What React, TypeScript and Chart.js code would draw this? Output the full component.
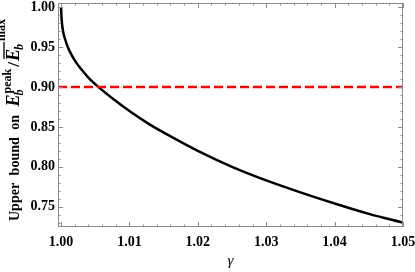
import React, { useEffect, useRef } from "react";
import { Chart, registerables } from "chart.js";

Chart.register(...registerables);

// ---- data ----
const gammaValues = [
  1.0, 1.0001, 1.0003, 1.0006, 1.001, 1.0015, 1.0022, 1.003, 1.004, 1.0055,
  1.0075, 1.01, 1.013, 1.0165, 1.02, 1.025, 1.03, 1.035, 1.04, 1.045, 1.05,
];
const boundValues = [
  1.0, 0.984, 0.97, 0.96, 0.95, 0.941, 0.931, 0.922, 0.912, 0.9, 0.886, 0.87,
  0.853, 0.836, 0.82, 0.8, 0.783, 0.768, 0.754, 0.741, 0.73,
];
const thresholdGamma = [0.99956, 1.05];
const thresholdValue = [0.9, 0.9];
const xTickValues = [1.0, 1.01, 1.02, 1.03, 1.04, 1.05];
const yTickValues = [0.75, 0.8, 0.85, 0.9, 0.95, 1.0];
const xMinorStep = 0.002;
const yMinorStep = 0.01;
const xRange = [0.99956, 1.05];
const yRange = [0.7245, 1.0055];

const FRAME = "#8c8c8c";
const SERIF = '"Liberation Serif", "Times New Roman", serif';

const framePlugin = {
  id: "mmaFrame",
  afterDatasetsDraw(chart: any) {
    const { ctx, chartArea: a, scales } = chart;
    const xs = scales.x;
    const ys = scales.y;
    ctx.save();
    ctx.strokeStyle = FRAME;
    ctx.lineWidth = 1;
    ctx.strokeRect(a.left + 0.5, a.top + 0.5, a.right - a.left - 1, a.bottom - a.top - 1);

    const major = 5;
    const minor = 2.5;
    ctx.beginPath();
    const x0 = xTickValues[0];
    for (let k = -10; k <= 40; k++) {
      const v = x0 + k * xMinorStep;
      if (v < xs.min - 1e-9 || v > xs.max + 1e-9) continue;
      const isMajor = k % 5 === 0;
      const len = isMajor ? major : minor;
      const px = Math.round(xs.getPixelForValue(v)) + 0.5;
      ctx.moveTo(px, a.bottom);
      ctx.lineTo(px, a.bottom - len);
      ctx.moveTo(px, a.top);
      ctx.lineTo(px, a.top + len);
    }
    const y0 = yTickValues[0];
    for (let k = -5; k <= 30; k++) {
      const v = y0 + k * yMinorStep;
      if (v < ys.min - 1e-9 || v > ys.max + 1e-9) continue;
      const isMajor = ((k % 5) + 5) % 5 === 0;
      const len = isMajor ? major : minor;
      const py = Math.round(ys.getPixelForValue(v)) + 0.5;
      ctx.moveTo(a.left, py);
      ctx.lineTo(a.left + len, py);
      ctx.moveTo(a.right, py);
      ctx.lineTo(a.right - len, py);
    }
    ctx.stroke();
    ctx.restore();
  },
  afterDraw(chart: any) {
    const { ctx, chartArea: a } = chart;
    ctx.save();
    ctx.fillStyle = "#000";
    // x title
    ctx.font = `italic 15px ${SERIF}`;
    ctx.textAlign = "center";
    ctx.textBaseline = "alphabetic";
    ctx.fillText("\u03b3", (a.left + a.right) / 2, 264.5);

    // y title (rotated)
    ctx.translate(19, 221);
    ctx.rotate(-Math.PI / 2);
    ctx.textAlign = "left";
    let cx = 0;
    const main = `bold 14px ${SERIF}`;
    const bigIt = `italic bold 18px ${SERIF}`;
    const slash = `bold 17px ${SERIF}`;
    const small = `bold 12px ${SERIF}`;
    const smallIt = `italic bold 12px ${SERIF}`;
    ctx.font = main;
    const words = ["Upper", "bound", "on"];
    for (const w of words) {
      ctx.fillText(w, cx, 0);
      cx += ctx.measureText(w).width + 7.5;
    }
    cx += 1;
    // E_b^peak
    ctx.font = bigIt;
    ctx.fillText("E", cx, 0);
    cx += ctx.measureText("E").width;
    ctx.font = small;
    ctx.fillText("peak", cx + 1, -8.5);
    const wPeak = ctx.measureText("peak").width;
    ctx.font = smallIt;
    ctx.fillText("b", cx - 1, 4);
    const wb = ctx.measureText("b").width;
    cx += Math.max(wPeak, wb) + 3;
    // slash
    ctx.font = slash;
    ctx.fillText("/", cx, 0);
    cx += ctx.measureText("/").width + 1;
    // overlined E_b^max
    ctx.font = bigIt;
    const eStart = cx;
    ctx.fillText("E", cx, 0);
    cx += ctx.measureText("E").width;
    ctx.font = smallIt;
    ctx.fillText("b", cx - 1, 4);
    const wb2 = ctx.measureText("b").width;
    ctx.lineWidth = 1.3;
    ctx.strokeStyle = "#000";
    ctx.beginPath();
    ctx.moveTo(eStart + 2, -15);
    ctx.lineTo(cx + wb2 + 1, -15);
    ctx.stroke();
    cx += wb2 + 2;
    ctx.font = small;
    ctx.fillText("max", cx, -14);
    ctx.restore();
  },
};

export default function App() {
  const canvasRef = useRef<HTMLCanvasElement | null>(null);

  useEffect(() => {
    const canvas = canvasRef.current;
    if (!canvas) return;
    const tickFont = { family: SERIF, size: 14, weight: "bold" as const };
    const chart = new Chart(canvas, {
      type: "line",
      data: {
        datasets: [
          {
            data: thresholdGamma.map((g, i) => ({ x: g, y: thresholdValue[i] })),
            borderColor: "#ff0000",
            borderWidth: 2.5,
            borderDash: [9, 4],
            pointRadius: 0,
            fill: false,
          },
          {
            data: gammaValues.map((g, i) => ({ x: g, y: boundValues[i] })),
            borderColor: "#000",
            borderWidth: 2.5,
            pointRadius: 0,
            cubicInterpolationMode: "monotone",
            fill: false,
          },
        ],
      },
      options: {
        responsive: false,
        animation: false,
        devicePixelRatio: 1,
        layout: { padding: { left: 0, right: 12, top: 3, bottom: 0 } },
        plugins: { legend: { display: false }, tooltip: { enabled: false } },
        scales: {
          x: {
            type: "linear",
            min: xRange[0],
            max: xRange[1],
            grid: { display: false, drawTicks: false, tickLength: 0 },
            border: { display: false },
            afterBuildTicks: (s: any) => {
              s.ticks = xTickValues.map((v) => ({ value: v }));
            },
            afterFit: (s: any) => {
              s.height = 45;
              s.paddingLeft = 0;
              s.paddingRight = 0;
            },
            ticks: {
              font: tickFont,
              color: "#000",
              padding: 7,
              maxRotation: 0,
              autoSkip: false,
              callback: (v: any) => Number(v).toFixed(2),
            },
          },
          y: {
            type: "linear",
            min: yRange[0],
            max: yRange[1],
            grid: { display: false, drawTicks: false, tickLength: 0 },
            border: { display: false },
            afterBuildTicks: (s: any) => {
              s.ticks = yTickValues.map((v) => ({ value: v }));
            },
            afterFit: (s: any) => {
              s.width = 58;
              s.paddingTop = 0;
              s.paddingBottom = 0;
            },
            ticks: {
              font: tickFont,
              color: "#000",
              padding: 3,
              autoSkip: false,
              callback: (v: any) => Number(v).toFixed(2),
            },
          },
        },
      },
      plugins: [framePlugin],
    } as any);
    return () => chart.destroy();
  }, []);

  return (
    <div style={{ position: "fixed", left: 0, top: 0, width: 415, height: 272, background: "#fff" }}>
      <canvas ref={canvasRef} width={415} height={272} style={{ display: "block" }} />
    </div>
  );
}
